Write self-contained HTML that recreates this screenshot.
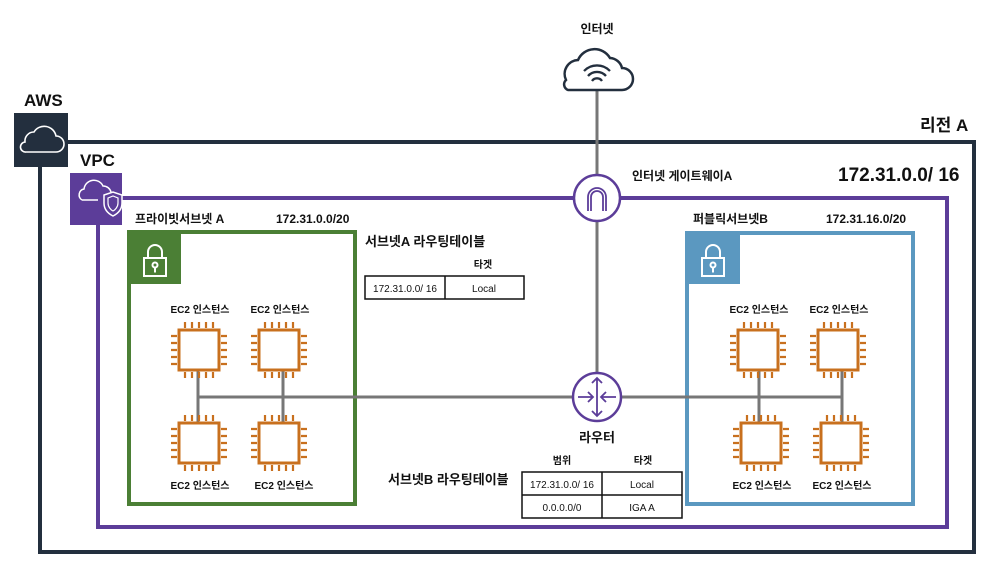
<!DOCTYPE html>
<html><head><meta charset="utf-8"><style>
body{margin:0;background:#fff}
svg{display:block}
text{font-family:"Liberation Sans","Noto Sans CJK KR",sans-serif;fill:#111}
</style></head><body>
<svg width="986" height="571" viewBox="0 0 986 571" xmlns="http://www.w3.org/2000/svg">
<defs>
<g id="chip">
<rect x="-20" y="-20" width="40" height="40" fill="#fff" stroke="#c8701e" stroke-width="3"/>
<g stroke="#c8701e" stroke-width="2.2">
<path d="M-14-22v-6M-7-22v-6M0-22v-6M7-22v-6M14-22v-6"/>
<path d="M-14 22v6M-7 22v6M0 22v6M7 22v6M14 22v6"/>
<path d="M-22-14h-6M-22-7h-6M-22 0h-6M-22 7h-6M-22 14h-6"/>
<path d="M22-14h6M22-7h6M22 0h6M22 7h6M22 14h6"/>
</g></g>
<g id="lock" fill="none" stroke="#fff" stroke-width="2">
<rect x="-11" y="-4" width="22" height="18"/>
<path d="M-7-4v-6a7 7 0 0 1 14 0v6"/>
<circle cx="0" cy="3" r="2.5"/><path d="M0 5.5v5"/>
</g>
</defs>

<!-- outer AWS region -->
<path d="M40 142H974V552H40Z" fill="none" stroke="#232f3e" stroke-width="4"/>
<rect x="14" y="113" width="54" height="54" fill="#232f3e"/>
<path d="M26 152h30a8 8 0 0 0 0-16a12 12 0 0 0-22-4a9 9 0 0 0-9 10a5 5 0 0 0 1 10z" fill="none" stroke="#fff" stroke-width="1.6"/>
<text x="24" y="106" font-size="17" font-weight="bold">AWS</text>
<text x="920" y="131" font-size="17" font-weight="bold">리전 A</text>

<!-- VPC -->
<path d="M98 198H947V527H98Z" fill="none" stroke="#5c3d99" stroke-width="4"/>
<rect x="70" y="173" width="52" height="52" fill="#5c3d99"/>
<path d="M82 200h16M82 200a6 6 0 0 1 2-11a10 10 0 0 1 19-3a8 8 0 0 1 8 6" fill="none" stroke="#fff" stroke-width="1.5"/>
<path d="M104 195l9-3l9 3v8c0 7-5 11-9 13c-4-2-9-6-9-13z" fill="#5c3d99" stroke="#fff" stroke-width="1.5"/>
<path d="M108 198l5-2l5 2v5c0 4-3 7-5 8c-2-1-5-4-5-8z" fill="none" stroke="#fff" stroke-width="1.2"/>
<text x="80" y="166" font-size="17" font-weight="bold">VPC</text>
<text x="838" y="181" font-size="19" font-weight="bold">172.31.0.0/ 16</text>

<!-- internet line -->
<line x1="597" y1="88" x2="597" y2="397" stroke="#777" stroke-width="3"/>
<!-- internet cloud -->
<path d="M568 90h54a11 11 0 0 0 0-22a13 13 0 0 0-12-10a18 18 0 0 0-32 2a14 14 0 0 0-12 20a6 6 0 0 0 2 10z" fill="#fff" stroke="#232f3e" stroke-width="2.5"/>
<path d="M584 71a18 18 0 0 1 26 0M588 76a12 12 0 0 1 18 0M592 81a6 6 0 0 1 10 0" fill="none" stroke="#232f3e" stroke-width="2.3"/>
<text x="597" y="33" font-size="12" font-weight="bold" text-anchor="middle">인터넷</text>

<!-- subnet A -->
<rect x="129" y="232" width="226" height="272" fill="none" stroke="#4b7f35" stroke-width="4"/>
<rect x="129" y="232" width="52" height="52" fill="#4b7f35"/>
<use href="#lock" x="155" y="262"/>
<text x="135" y="223" font-size="12" font-weight="bold">프라이빗서브넷 A</text>
<text x="276" y="223" font-size="12" font-weight="bold">172.31.0.0/20</text>

<!-- subnet B -->
<rect x="687" y="233" width="226" height="271" fill="none" stroke="#5b98c0" stroke-width="4"/>
<rect x="687" y="233" width="53" height="51" fill="#5b98c0"/>
<use href="#lock" x="713" y="262"/>
<text x="693" y="223" font-size="12" font-weight="bold">퍼블릭서브넷B</text>
<text x="826" y="223" font-size="12" font-weight="bold">172.31.16.0/20</text>

<!-- lines -->
<g stroke="#777" stroke-width="3">
<line x1="198" y1="397" x2="842" y2="397"/>
<line x1="198" y1="370" x2="198" y2="424"/>
<line x1="283" y1="370" x2="283" y2="424"/>
<line x1="759" y1="370" x2="759" y2="424"/>
<line x1="842" y1="370" x2="842" y2="424"/>
</g>

<!-- chips -->
<use href="#chip" x="199" y="350"/><use href="#chip" x="279" y="350"/>
<use href="#chip" x="199" y="443"/><use href="#chip" x="279" y="443"/>
<use href="#chip" x="758" y="350"/><use href="#chip" x="838" y="350"/>
<use href="#chip" x="761" y="443"/><use href="#chip" x="841" y="443"/>
<g font-size="10" font-weight="bold" text-anchor="middle">
<text x="200" y="313">EC2 인스턴스</text><text x="280" y="313">EC2 인스턴스</text>
<text x="200" y="489">EC2 인스턴스</text><text x="284" y="489">EC2 인스턴스</text>
<text x="759" y="313">EC2 인스턴스</text><text x="839" y="313">EC2 인스턴스</text>
<text x="762" y="489">EC2 인스턴스</text><text x="842" y="489">EC2 인스턴스</text>
</g>

<!-- IGW -->
<circle cx="597" cy="198" r="23" fill="#fff" stroke="#5c3d99" stroke-width="2.5"/>
<path d="M588 211v-14a9 9 0 0 1 18 0v14M591 211v-14a6 6 0 0 1 12 0v14" fill="none" stroke="#5c3d99" stroke-width="1.8"/>
<text x="632" y="180" font-size="12" font-weight="bold">인터넷 게이트웨이A</text>

<!-- router -->
<circle cx="597" cy="397" r="24" fill="#fff" stroke="#5c3d99" stroke-width="2.5"/>
<g fill="none" stroke="#5c3d99" stroke-width="1.8">
<path d="M597 378v38M592 383l5-5l5 5M592 411l5 5l5-5"/>
<path d="M578 397h15M588 392l5 5l-5 5M616 397h-15M606 392l-5 5l5 5"/>
</g>
<text x="597" y="442" font-size="13" font-weight="bold" text-anchor="middle">라우터</text>

<!-- table A -->
<text x="365" y="246" font-size="13" font-weight="bold">서브넷A 라우팅테이블</text>
<text x="483" y="268" font-size="10" font-weight="bold" text-anchor="middle">타겟</text>
<g fill="none" stroke="#111" stroke-width="1.5"><rect x="365" y="276" width="159" height="23"/><line x1="445" y1="276" x2="445" y2="299"/></g>
<text x="405" y="292" font-size="10" text-anchor="middle">172.31.0.0/ 16</text>
<text x="484" y="292" font-size="10" text-anchor="middle">Local</text>

<!-- table B -->
<text x="388" y="484" font-size="13" font-weight="bold">서브넷B 라우팅테이블</text>
<text x="562" y="464" font-size="10" font-weight="bold" text-anchor="middle">범위</text>
<text x="643" y="464" font-size="10" font-weight="bold" text-anchor="middle">타겟</text>
<g fill="none" stroke="#111" stroke-width="1.5"><rect x="522" y="472" width="160" height="46"/><line x1="522" y1="495" x2="682" y2="495"/><line x1="602" y1="472" x2="602" y2="518"/></g>
<text x="562" y="488" font-size="10" text-anchor="middle">172.31.0.0/ 16</text>
<text x="642" y="488" font-size="10" text-anchor="middle">Local</text>
<text x="562" y="511" font-size="10" text-anchor="middle">0.0.0.0/0</text>
<text x="642" y="511" font-size="10" text-anchor="middle">IGA A</text>
</svg>
</body></html>
